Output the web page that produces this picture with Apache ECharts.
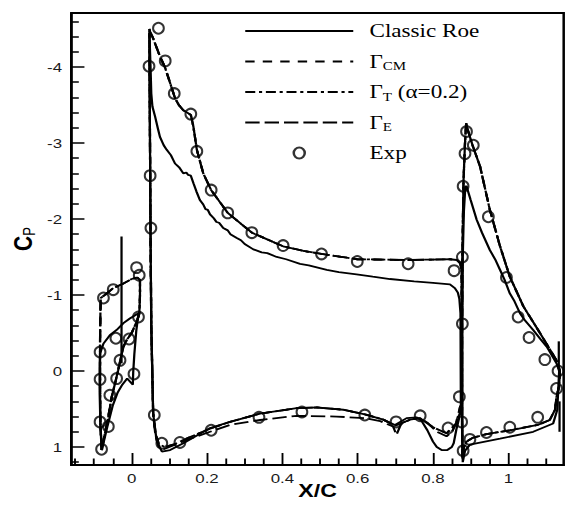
<!DOCTYPE html>
<html>
<head>
<meta charset="utf-8">
<script src="https://cdn.jsdelivr.net/npm/echarts@6/dist/echarts.min.js"></script>
<style>
html,body{margin:0;padding:0;background:#fff;overflow:hidden}
/* the source figure is stretched sideways, so the chart is drawn narrow and scaled */
#cp-chart{width:452px;height:506px;transform:scaleX(1.25);transform-origin:0 0}
</style>
</head>
<body>
<div id="cp-chart"></div>
<script>
// tick values
const xTicks = [0, 0.2, 0.4, 0.6, 0.8, 1]
const xMinorTicks = [-0.15, -0.1, -0.05, 0.05, 0.1, 0.15, 0.25, 0.3, 0.35, 0.45, 0.5, 0.55, 0.65, 0.7, 0.75, 0.85, 0.9, 0.95, 1.05, 1.1]
const yTicks = [-4, -3, -2, -1, 0, 1]
const yMinorTicks = [-4.6, -4.4, -4.2, -3.8, -3.6, -3.4, -3.2, -2.8, -2.6, -2.4, -2.2, -1.8, -1.6, -1.4, -1.2, -0.8, -0.6, -0.4, -0.2, 0.2, 0.4, 0.6, 0.8, 1.2]

// Classic Roe, [x/c, cp]
const roeSlat = [[0.018,-0.76],[0.012,-0.52],[0.007,-0.22],[0.004,0.02],[0.003,0.18],[-0.012,0.1],[-0.025,0.18],[-0.037,0.28],[-0.05,0.45],[-0.064,0.72],[-0.075,0.95],[-0.079,1.04],[-0.083,0.72],[-0.085,0.3],[-0.085,-0.05],[-0.084,-0.23],[-0.075,-0.36],[-0.058,-0.47],[-0.04,-0.54],[-0.022,-0.63],[-0.005,-0.69],[0.018,-0.76]]
const roeSlatSpike = [[-0.027,-1.77],[-0.027,-0.1]]
const roeMainLower = [[0.874,0.5],[0.868,0.65],[0.862,0.77],[0.855,0.95],[0.85,1.0],[0.838,1.04],[0.823,1.04],[0.81,1.0],[0.8,0.93],[0.785,0.78],[0.77,0.66],[0.757,0.61],[0.73,0.62],[0.699,0.71],[0.668,0.64],[0.619,0.57],[0.562,0.51],[0.491,0.48],[0.438,0.49],[0.341,0.56],[0.261,0.67],[0.208,0.75],[0.137,0.95],[0.102,1.04],[0.08,1.06],[0.066,0.91],[0.057,0.56],[0.052,-0.6],[0.05,-1.8],[0.048,-3.5],[0.047,-4.45]]
const roeMainUpper = [[0.047,-4.45],[0.05,-4.0],[0.052,-3.65],[0.055,-3.48],[0.062,-3.35],[0.07,-3.18],[0.075,-3.08],[0.085,-2.97],[0.093,-2.91],[0.104,-2.84],[0.115,-2.73],[0.126,-2.68],[0.137,-2.6],[0.145,-2.61],[0.15,-2.58],[0.157,-2.57],[0.164,-2.47],[0.172,-2.36],[0.181,-2.25],[0.19,-2.19],[0.196,-2.13],[0.202,-2.12],[0.208,-2.06],[0.218,-2.01],[0.225,-1.96],[0.232,-1.95],[0.243,-1.88],[0.255,-1.85],[0.262,-1.8],[0.279,-1.75],[0.29,-1.72],[0.3,-1.67],[0.323,-1.6],[0.345,-1.56],[0.36,-1.55],[0.385,-1.5],[0.41,-1.47],[0.447,-1.41],[0.47,-1.39],[0.518,-1.33],[0.55,-1.3],[0.597,-1.27],[0.64,-1.24],[0.686,-1.21],[0.75,-1.18],[0.8,-1.16],[0.845,-1.14],[0.858,-1.09],[0.866,-1.03],[0.87,-0.95],[0.873,-0.76],[0.874,0.5]]
const roeFlap = [[1.135,0.0],[1.132,0.3],[1.13,0.51],[1.119,0.69],[1.066,0.8],[0.978,0.89],[0.898,0.97],[0.885,1.05],[0.879,1.2],[0.878,0.6],[0.878,-0.6],[0.879,-1.5],[0.882,-2.1],[0.886,-2.43],[0.889,-2.43],[0.9,-2.25],[0.916,-1.99],[0.93,-1.82],[0.951,-1.59],[0.965,-1.47],[0.978,-1.33],[0.99,-1.2],[1.004,-1.02],[1.015,-0.93],[1.031,-0.76],[1.045,-0.66],[1.066,-0.54],[1.085,-0.42],[1.102,-0.32],[1.128,-0.1],[1.135,0.0]]
const roeFlapTickA = [[1.136,0.4],[1.136,0.8]]
const roeFlapTickB = [[1.134,-0.39],[1.134,-0.06]]

// Gamma schemes
const gammaSlat = [[0.02,-0.75],[0.015,-0.67],[0,-0.5],[-0.013,-0.41],[-0.022,-0.32],[-0.028,-0.19],[-0.036,-0.01],[-0.044,0.16],[-0.053,0.34],[-0.062,0.6],[-0.071,0.82],[-0.08,1.04],[-0.083,0.7],[-0.084,0.2],[-0.084,-0.4],[-0.083,-0.8],[-0.082,-0.96],[-0.066,-1.02],[-0.049,-1.09],[-0.022,-1.15],[0,-1.21],[0.015,-1.23],[0.022,-1.2],[0.022,-1.0],[0.021,-0.85],[0.02,-0.75]]
const gammaMainLower = [[0.875,0.45],[0.872,0.47],[0.862,0.69],[0.836,0.82],[0.8,0.74],[0.765,0.62],[0.739,0.64],[0.71,0.7],[0.699,0.72],[0.668,0.64],[0.619,0.57],[0.562,0.51],[0.491,0.48],[0.438,0.49],[0.341,0.56],[0.261,0.67],[0.208,0.76],[0.15,0.88],[0.11,0.97],[0.088,1.0],[0.072,0.96],[0.062,0.8],[0.057,0.56],[0.052,-0.6],[0.05,-1.8],[0.048,-3.5],[0.047,-4.5]]
const gammaEMainLower = [[0.875,0.45],[0.872,0.55],[0.862,0.69],[0.85,0.8],[0.836,0.86],[0.81,0.8],[0.785,0.68],[0.765,0.62],[0.739,0.64],[0.715,0.7],[0.703,0.84],[0.694,0.73],[0.66,0.66],[0.619,0.62],[0.544,0.6],[0.438,0.59],[0.341,0.645],[0.261,0.71],[0.208,0.8],[0.15,0.9],[0.11,0.98],[0.085,1.03],[0.072,1.0],[0.065,0.88],[0.057,0.56],[0.052,-0.6],[0.05,-1.8],[0.048,-3.5],[0.047,-4.5]]
const gammaMainUpper = [[0.047,-4.5],[0.049,-4.46],[0.055,-4.4],[0.062,-4.31],[0.075,-4.14],[0.088,-4.0],[0.102,-3.79],[0.115,-3.59],[0.125,-3.5],[0.137,-3.43],[0.157,-3.37],[0.164,-3.21],[0.173,-2.91],[0.19,-2.6],[0.211,-2.38],[0.255,-2.08],[0.319,-1.82],[0.402,-1.64],[0.456,-1.58],[0.504,-1.54],[0.599,-1.47],[0.734,-1.46],[0.845,-1.47],[0.863,-1.46],[0.872,-1.42],[0.876,-1.33],[0.876,-0.6],[0.875,0.45]]
const gammaFlap = [[1.137,0.0],[1.135,0.2],[1.128,0.34],[1.124,0.51],[1.11,0.645],[1.078,0.71],[1.004,0.78],[0.942,0.83],[0.905,0.88],[0.889,0.93],[0.882,1.0],[0.878,1.15],[0.877,0.6],[0.877,-0.6],[0.878,-1.5],[0.881,-2.5],[0.885,-3.0],[0.888,-3.26],[0.893,-3.16],[0.905,-2.97],[0.925,-2.69],[0.951,-2.12],[0.978,-1.64],[1.004,-1.24],[1.04,-0.85],[1.084,-0.5],[1.128,-0.14],[1.137,0.0]]

// experiment
const expSlat = [[-0.08,1.03],[-0.084,0.67],[-0.062,0.73],[-0.058,0.32],[-0.084,0.11],[-0.04,0.1],[0.006,0.04],[-0.031,-0.14],[-0.084,-0.25],[-0.042,-0.43],[-0.007,-0.42],[0.018,-0.71],[-0.075,-0.96],[-0.049,-1.07],[0.013,-1.36],[0.02,-1.26]]
const expMain = [[0.051,-1.88],[0.049,-2.57],[0.046,-4.01],[0.071,-4.51],[0.089,-4.08],[0.113,-3.65],[0.157,-3.38],[0.173,-2.89],[0.211,-2.38],[0.255,-2.08],[0.319,-1.82],[0.402,-1.65],[0.504,-1.54],[0.599,-1.44],[0.734,-1.41],[0.856,-1.32],[0.06,0.58],[0.08,0.95],[0.128,0.94],[0.211,0.78],[0.338,0.61],[0.452,0.54],[0.619,0.58],[0.702,0.67],[0.766,0.59],[0.84,0.75]]
const expFlap = [[0.878,-1.5],[0.878,-0.62],[0.87,0.34],[0.876,0.67],[0.88,1.05],[0.898,0.9],[0.942,0.81],[1.004,0.74],[1.078,0.61],[1.128,0.23],[1.132,0.0],[1.097,-0.15],[1.055,-0.44],[1.026,-0.71],[0.995,-1.23],[0.947,-2.03],[0.88,-2.43],[0.885,-2.86],[0.907,-2.97],[0.889,-3.15]]

const legendText = {
  'Classic Roe': '{m|Classic Roe}',
  'GCM': '{m|Γ}{s|CM}',
  'GT': '{m|Γ}{s|T}{m| (α=0.2)}',
  'GE': '{m|Γ}{s|E}',
  'Exp': '{m|Exp}'
}

let chartDom = document.getElementById('cp-chart')
let cpChart = echarts.init(chartDom, null, {renderer: 'svg'})

function curve(name, data, dash) {
  return {
    name: name,
    type: 'line',
    data: data,
    symbol: 'none',
    showSymbol: false,
    z: 2,
    itemStyle: {color: '#000'},
    lineStyle: {color: '#000', width: 1.8, type: dash}
  }
}

let series = []
// each scheme is drawn element by element (slat, main, flap)
;[roeSlat, roeSlatSpike, roeMainLower.concat(roeMainUpper), roeFlap, roeFlapTickA, roeFlapTickB].forEach(d => {
  series.push(curve('Classic Roe', d, 'solid'))
})
;[gammaSlat, gammaMainLower.concat(gammaMainUpper), gammaFlap].forEach(d => {
  series.push(curve('GCM', d, [7.5, 6.5]))
})
;[gammaSlat, gammaMainLower.concat(gammaMainUpper), gammaFlap].forEach(d => {
  series.push(curve('GT', d, [8, 3, 2.5, 3]))
})
;[gammaSlat, gammaEMainLower.concat(gammaMainUpper), gammaFlap].forEach(d => {
  series.push(curve('GE', d, [11.5, 4]))
})
series.push({
  name: 'Exp',
  type: 'scatter',
  data: expSlat.concat(expMain, expFlap),
  symbol: 'circle',
  symbolSize: [8.6, 10.8],
  z: 3,
  itemStyle: {color: 'rgba(0,0,0,0)', borderColor: '#000', borderWidth: 1.8}
})

const labelFont = {fontFamily: 'Liberation Sans', fontSize: 13.5, color: '#1a1a1a'}
// hide the little marker ECharts puts in the middle of a line legend icon
const noDot = {color: 'rgba(0,0,0,0)', borderColor: 'rgba(0,0,0,0)', borderWidth: 0}

let option = {
  animation: false,
  backgroundColor: '#fff',
  grid: {
    show: true, left: 57.15, top: 13, width: 393.8, height: 452,
    outerBoundsMode: 'none',
    borderColor: '#000', borderWidth: 2
  },
  legend: {
    orient: 'vertical',
    left: 195.2,
    top: 20,
    padding: 0,
    itemWidth: 86.4,
    itemHeight: 11,
    itemGap: 8.5,
    selectedMode: false,
    data: [
      {name: 'Classic Roe', itemStyle: noDot},
      {name: 'GCM', itemStyle: noDot},
      {name: 'GT', itemStyle: noDot},
      {name: 'GE', itemStyle: noDot},
      // narrow ellipse so it comes out round after the sideways stretch
      {name: 'Exp', icon: 'path://M0,5A4,5 0 1,1 8,5A4,5 0 1,1 0,5Z'}
    ],
    formatter: name => legendText[name],
    textStyle: {
      fontFamily: 'Liberation Serif',
      fontSize: 18.5,
      lineHeight: 22,
      color: '#000',
      padding: [0, 0, 0, 8],
      rich: {
        m: {fontFamily: 'Liberation Serif', fontSize: 18.5, lineHeight: 22, color: '#000'},
        s: {fontFamily: 'Liberation Serif', fontSize: 12, lineHeight: 8, verticalAlign: 'bottom', color: '#000'}
      }
    }
  },
  xAxis: [
    {
      type: 'value',
      min: -0.16,
      max: 1.147,
      name: 'X/C',
      nameLocation: 'middle',
      nameGap: 15,
      nameMoveOverlap: false,
      nameTextStyle: {fontFamily: 'Liberation Sans', fontWeight: 'bold', fontSize: 18.5, lineHeight: 20, color: '#000'},
      splitLine: {show: false},
      axisLine: {show: true, onZero: false, lineStyle: {color: '#000', width: 2}},
      axisTick: {show: true, inside: true, length: 12, customValues: xTicks, lineStyle: {color: '#000', width: 1.5}},
      axisLabel: {customValues: xTicks, margin: 6, ...labelFont}
    },
    {
      type: 'value',
      min: -0.16,
      max: 1.147,
      position: 'bottom',
      splitLine: {show: false},
      axisLine: {show: false, onZero: false},
      axisLabel: {show: false},
      axisTick: {show: true, inside: true, length: 6.5, customValues: xMinorTicks, lineStyle: {color: '#000', width: 1.5}}
    }
  ],
  yAxis: [
    {
      type: 'value',
      inverse: true,
      min: -4.71,
      max: 1.237,
      name: '{c|C}{p|P}',
      nameLocation: 'middle',
      nameRotate: 90,
      nameGap: 27,
      nameMoveOverlap: false,
      nameTextStyle: {
        rich: {
          c: {fontFamily: 'Liberation Sans', fontWeight: 'bold', fontSize: 21, lineHeight: 24, color: '#000'},
          p: {fontFamily: 'Liberation Sans', fontSize: 13, lineHeight: 6, verticalAlign: 'bottom', color: '#000'}
        }
      },
      splitLine: {show: false},
      axisLine: {show: true, onZero: false, lineStyle: {color: '#000', width: 2}},
      axisTick: {show: true, inside: true, length: 10.4, customValues: yTicks, lineStyle: {color: '#000', width: 1.5}},
      axisLabel: {customValues: yTicks, margin: 7.5, ...labelFont}
    },
    {
      type: 'value',
      inverse: true,
      min: -4.71,
      max: 1.237,
      position: 'left',
      splitLine: {show: false},
      axisLine: {show: false, onZero: false},
      axisLabel: {show: false},
      axisTick: {show: true, inside: true, length: 5.9, customValues: yMinorTicks, lineStyle: {color: '#000', width: 1.5}}
    }
  ],
  series: series
}

cpChart.setOption(option)
</script>
</body>
</html>
